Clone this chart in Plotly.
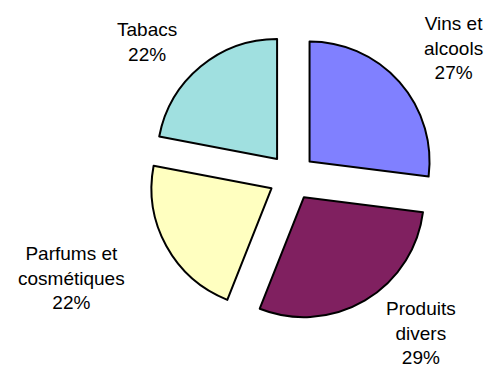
import plotly.graph_objects as go

# Répartition des achats par catégorie (%)
categories = ["Vins et alcools", "Produits divers", "Parfums et cosmétiques", "Tabacs"]
label_lines = ["Vins et<br>alcools", "Produits<br>divers", "Parfums et<br>cosmétiques", "Tabacs"]
values = [27, 29, 22, 22]
colors = ["#8080FF", "#802060", "#FFFFC0", "#A0E0E0"]

W, H = 489, 371
cx, cy = 292, 177          # pie centre, pixels from top-left
radius, pull = 120, 0.195
half = radius * (1 + pull)  # half-size of the pie box

fig = go.Figure(
    go.Pie(
        labels=categories,
        values=values,
        sort=False,
        direction="clockwise",
        rotation=0,
        pull=[pull] * len(values),
        marker=dict(colors=colors, line=dict(color="black", width=2)),
        textinfo="none",
        hoverinfo="label+percent",
        showlegend=False,
        domain=dict(
            x=[(cx - half) / W, (cx + half) / W],
            y=[(H - cy - half) / H, (H - cy + half) / H],
        ),
    )
)

# label anchor points (paper pixels) for each category
label_pos = [(453, 48), (421, 333), (71, 278), (147, 42)]
total = sum(values)
annotations = []
for text, v, (px, py) in zip(label_lines, values, label_pos):
    annotations.append(
        dict(
            text=f"{text}<br>{round(100 * v / total)}%",
            x=px / W,
            y=1 - py / H,
            xref="paper",
            yref="paper",
            xanchor="center",
            yanchor="middle",
            showarrow=False,
            align="center",
            font=dict(family="Liberation Sans, Arial, sans-serif", size=19, color="black"),
        )
    )

fig.update_layout(
    width=W,
    height=H,
    margin=dict(l=0, r=0, t=0, b=0),
    paper_bgcolor="white",
    plot_bgcolor="white",
    annotations=annotations,
)

fig.write_html("out.html")
